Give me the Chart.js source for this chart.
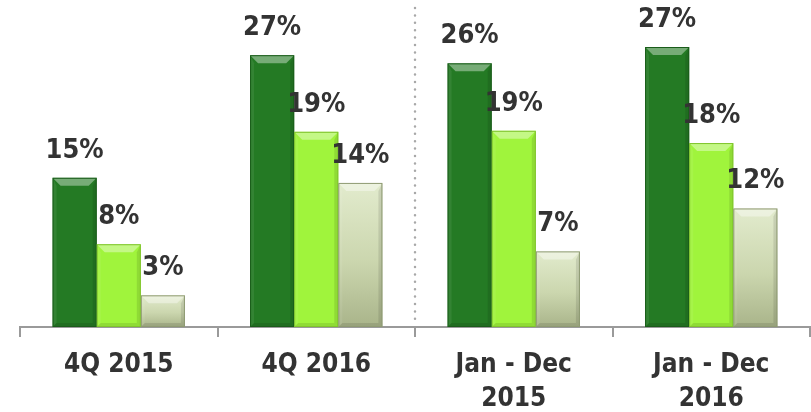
<!DOCTYPE html>
<html>
<head>
<meta charset="utf-8">
<script src="https://cdn.jsdelivr.net/npm/chart.js@4.4.0/dist/chart.umd.min.js"></script>
<style>
  html, body { margin: 0; padding: 0; background: #ffffff; }
  #wrap { width: 811px; height: 412px; position: relative; }
</style>
</head>
<body>
<div id="wrap"><canvas id="c" width="811" height="412"></canvas></div>
<script>
// ---- data ----
const categories = ['4Q 2015', '4Q 2016', ['Jan - Dec', '2015'], ['Jan - Dec', '2016']];
const seriesDark  = [14.6, 26.6, 25.8, 27.4];
const seriesLime  = [8.1, 19.1, 19.2, 18.0];
const seriesPale  = [3.1, 14.1, 7.4, 11.6];
const separatorAfterIndex = 1; // dotted line between 4Q 2016 and Jan - Dec 2015

const FONT = '"DejaVu Sans Condensed", "DejaVu Sans", sans-serif';

function paleGradient(context) {
  const chart = context.chart;
  const area = chart.chartArea;
  const ys = chart.scales.y;
  if (!area || !ys || context.raw === undefined) return '#c8d3aa';
  const top = ys.getPixelForValue(context.raw);
  const base = ys.getPixelForValue(0);
  const g = chart.ctx.createLinearGradient(0, top, 0, base);
  g.addColorStop(0, '#e2ebcd');
  g.addColorStop(0.55, '#cbd6ae');
  g.addColorStop(1, '#a9b48a');
  return g;
}

const bevelPlugin = {
  id: 'bevel',
  afterDatasetsDraw(chart) {
    const ctx = chart.ctx;
    const b = 8;
    const edges = ['#1a5c1a', '#7fc42c', '#8e9a72'];
    chart.data.datasets.forEach((ds, di) => {
      const meta = chart.getDatasetMeta(di);
      meta.data.forEach((bar) => {
        const p = bar.getProps(['x', 'y', 'base', 'width'], true);
        const l = p.x - p.width / 2, r = p.x + p.width / 2, t = p.y, bt = p.base;
        ctx.save();
        // top bevel (light)
        ctx.fillStyle = 'rgba(255,255,255,0.38)';
        ctx.beginPath();
        ctx.moveTo(l, t); ctx.lineTo(r, t); ctx.lineTo(r - b, t + b); ctx.lineTo(l + b, t + b); ctx.closePath();
        ctx.fill();
        // left side (slightly light)
        ctx.fillStyle = 'rgba(255,255,255,0.07)';
        ctx.beginPath();
        ctx.moveTo(l, t); ctx.lineTo(l + 4, t + b); ctx.lineTo(l + 4, bt - 4); ctx.lineTo(l, bt); ctx.closePath();
        ctx.fill();
        // right side (dark)
        ctx.fillStyle = 'rgba(0,0,0,0.10)';
        ctx.beginPath();
        ctx.moveTo(r, t); ctx.lineTo(r - 4, t + b); ctx.lineTo(r - 4, bt - 4); ctx.lineTo(r, bt); ctx.closePath();
        ctx.fill();
        // bottom bevel (dark)
        ctx.fillStyle = 'rgba(0,0,0,0.10)';
        ctx.beginPath();
        ctx.moveTo(l, bt); ctx.lineTo(l + 4, bt - 4); ctx.lineTo(r - 4, bt - 4); ctx.lineTo(r, bt); ctx.closePath();
        ctx.fill();
        // outline
        ctx.strokeStyle = edges[di];
        ctx.lineWidth = 1;
        ctx.strokeRect(l + 0.5, t + 0.5, p.width - 1, bt - t - 1);
        ctx.restore();
      });
    });
  },
  afterDraw(chart) {
    const ctx = chart.ctx;
    // value labels
    ctx.save();
    ctx.font = 'bold 27px ' + FONT;
    ctx.fillStyle = '#333333';
    ctx.textAlign = 'center';
    ctx.textBaseline = 'middle';
    chart.data.datasets.forEach((ds, di) => {
      const meta = chart.getDatasetMeta(di);
      meta.data.forEach((bar, i) => {
        const p = bar.getProps(['x', 'y'], true);
        ctx.fillText(Math.round(ds.data[i]) + '%', p.x, p.y - 27);
      });
    });
    ctx.restore();
    // dotted separator
    const xs = chart.scales.x;
    const sx = (xs.getPixelForValue(separatorAfterIndex) + xs.getPixelForValue(separatorAfterIndex + 1)) / 2;
    ctx.save();
    ctx.strokeStyle = '#a8a8a8';
    ctx.lineWidth = 2.5;
    ctx.lineCap = 'round';
    ctx.setLineDash([0, 7.4]);
    ctx.beginPath();
    ctx.moveTo(sx, 8);
    ctx.lineTo(sx, chart.chartArea.bottom - 2);
    ctx.stroke();
    ctx.restore();
  }
};

new Chart(document.getElementById('c'), {
  type: 'bar',
  data: {
    labels: categories,
    datasets: [
      { data: seriesDark, backgroundColor: '#247a24' },
      { data: seriesLime, backgroundColor: '#a0f43c' },
      { data: seriesPale, backgroundColor: paleGradient }
    ]
  },
  options: {
    responsive: false,
    animation: false,
    devicePixelRatio: 1,
    layout: { padding: { left: 20, right: 1, top: 0, bottom: 0 } },
    datasets: { bar: { categoryPercentage: 0.67, barPercentage: 1.0, borderWidth: 0 } },
    plugins: { legend: { display: false }, tooltip: { enabled: false }, title: { display: false } },
    scales: {
      y: { display: false, min: 0, max: 32 },
      x: {
        afterFit(scale) { scale.height = 85; },
        border: { display: true, color: '#9a9a9a', width: 2 },
        grid: { display: true, offset: true, drawOnChartArea: false, drawTicks: true, tickLength: 10, color: '#9a9a9a', lineWidth: 2 },
        ticks: { color: '#333333', padding: 11, font: { family: FONT, size: 26, weight: 'bold', lineHeight: 34 / 26 } }
      }
    }
  },
  plugins: [bevelPlugin]
});
</script>
</body>
</html>
